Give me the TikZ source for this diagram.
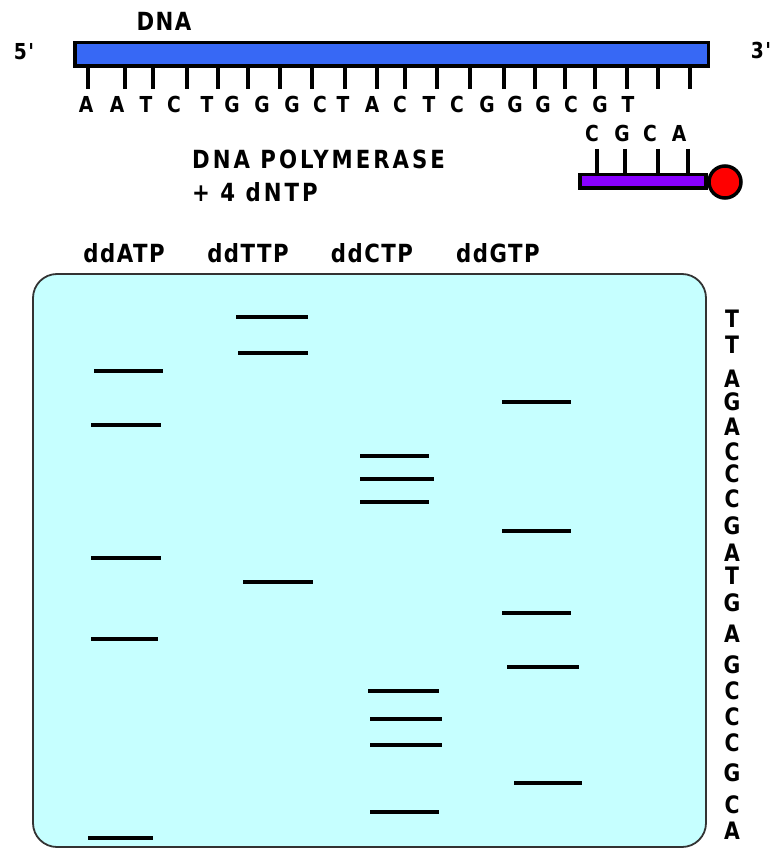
\documentclass[tikz,border=0pt]{standalone}
\usepackage{fontspec}
\newfontfamily\pix[LetterSpace=6,FakeStretch=0.85]{DejaVu Sans}
\newfontfamily\pixwide[LetterSpace=12,FakeStretch=0.85]{DejaVu Sans}
\definecolor{dnablue}{RGB}{55,104,245}
\definecolor{primerpurple}{RGB}{136,0,255}
\definecolor{gelcyan}{RGB}{198,255,255}
\begin{document}
\begin{tikzpicture}[x=1pt,y=-1pt,
  lbl/.style={inner sep=0pt, font=\pix\bfseries\fontsize{25}{25}\selectfont},
  widelbl/.style={inner sep=0pt, font=\pixwide\bfseries\fontsize{25}{25}\selectfont},
  base/.style={inner sep=0pt, font=\pix\bfseries\fontsize{22}{22}\selectfont},
  colbase/.style={inner sep=0pt, font=\pix\bfseries\fontsize{24}{24}\selectfont},
  tickline/.style={line width=3.2pt},
  band/.style={line width=4pt},
  strand/.style={line width=3.5pt, draw=black}]
\useasboundingbox (0,0) rectangle (775,850);

% template DNA strand
\node[lbl] (dnalbl) at (164,21) {DNA};
\node[base] (five) at (24,52) {5'};
\node[base] (three) at (761,50) {3'};
\draw[strand, fill=dnablue] (74.75,42.75) rectangle (708.25,66.25);
\foreach \x [count=\i] in {88,125,153,187,218,248,280,312,345,377,405,437,470,504,535,565,595,627,658,690}
  \draw[tickline] (\x,66) -- (\x,89);
\foreach \x/\b [count=\i] in {86/A,117/A,146/T,174/C,207/T,232/G,262/G,292/G,320/C,343/T,372/A,400/C,429/T,457/C,487/G,515/G,543/G,571/C,600/G,628/T}
  \node[base] (t\i) at (\x,104) {\b};

% primer
\foreach \x/\b [count=\i] in {592/C,622/G,650/C,679/A}
  \node[base] (p\i) at (\x,133) {\b};
\foreach \x in {597,625,658,688}
  \draw[tickline] (\x,149) -- (\x,175);
\draw[strand, fill=primerpurple] (579.75,174.75) rectangle (706,188.25);
\node[circle, draw=black, line width=3.5pt, fill=red, minimum size=32pt, inner sep=0pt] (label) at (725,182) {};

\node[widelbl, anchor=west] (poly) at (192,159) {DNA POLYMERASE};
\node[widelbl, anchor=west] (dntp) at (192,192) {+ 4 dNTP};

% lane labels
\node[lbl] (la) at (124,253) {ddATP};
\node[lbl] (lt) at (248,253) {ddTTP};
\node[lbl] (lc) at (372,253) {ddCTP};
\node[lbl] (lg) at (498,253) {ddGTP};

% gel
\draw[line width=1.8pt, draw=black!80, fill=gelcyan, rounded corners=24pt] (33,274) rectangle (706,847);

% bands ddATP
\draw[band] (94,371) -- (163,371);
\draw[band] (91,425) -- (161,425);
\draw[band] (91,558) -- (161,558);
\draw[band] (91,639) -- (158,639);
\draw[band] (88,838) -- (153,838);
% bands ddTTP
\draw[band] (236,317) -- (308,317);
\draw[band] (238,353) -- (308,353);
\draw[band] (243,582) -- (313,582);
% bands ddCTP
\draw[band] (360,456) -- (429,456);
\draw[band] (360,479) -- (434,479);
\draw[band] (360,502) -- (429,502);
\draw[band] (368,691) -- (439,691);
\draw[band] (370,719) -- (442,719);
\draw[band] (370,745) -- (442,745);
\draw[band] (370,812) -- (439,812);
% bands ddGTP
\draw[band] (502,402) -- (571,402);
\draw[band] (502,531) -- (571,531);
\draw[band] (502,613) -- (571,613);
\draw[band] (507,667) -- (579,667);
\draw[band] (514,783) -- (582,783);

% read sequence
\foreach \y/\b [count=\i] in {319/T,345/T,379/A,402/G,427/A,452/C,474/C,499/C,526/G,553/A,576/T,603/G,634/A,665/G,691/C,717/C,743/C,773/G,805/C,831/A}
  \node[colbase] (s\i) at (732,\y) {\b};
\end{tikzpicture}
\end{document}
